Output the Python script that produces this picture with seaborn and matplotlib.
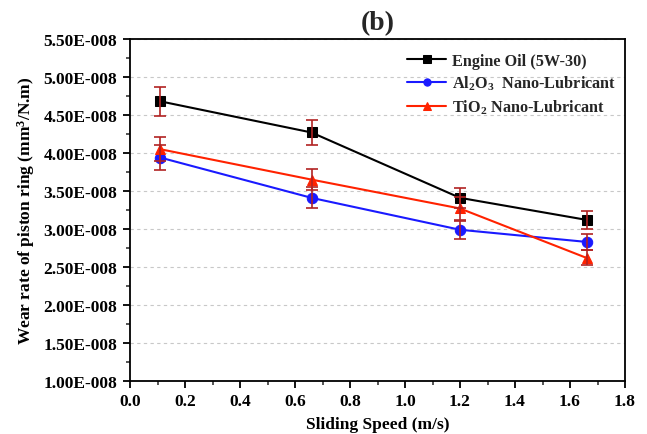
import matplotlib
matplotlib.use("Agg")
import matplotlib.pyplot as plt
import seaborn as sns
import pandas as pd
from matplotlib.ticker import MultipleLocator, FuncFormatter

speed = [0.11, 0.66, 1.2, 1.66]
engine_oil = [4.68, 4.27, 3.41, 3.12]
engine_err = [0.19, 0.17, 0.13, 0.12]
al2o3 = [3.94, 3.41, 2.99, 2.83]
al2o3_err = [0.16, 0.14, 0.12, 0.10]
tio2 = [4.05, 3.65, 3.27, 2.62]
tio2_err = [0.16, 0.14, 0.15, 0.10]
labels = ["Engine Oil (5W-30)", r"Al$_\mathbf{2}$O$_\mathbf{3}$  Nano-Lubricant", r"TiO$_\mathbf{2}$ Nano-Lubricant"]
scale = 1e-8

sns.set_theme(style="white")
plt.rcParams['font.family'] = ['Liberation Serif', 'DejaVu Serif']
plt.rcParams['font.weight'] = 'bold'
plt.rcParams['mathtext.fontset'] = 'custom'
plt.rcParams['mathtext.rm'] = 'Liberation Serif:bold'
plt.rcParams['mathtext.bf'] = 'Liberation Serif:bold'
plt.rcParams['mathtext.default'] = 'bf'

fig = plt.figure(figsize=(6.47, 4.35), dpi=100)
ax = fig.add_axes([130/647, 1-382/435, 495/647, 342/435])

series = [
    (engine_oil, engine_err, labels[0], "black", "s"),
    (al2o3, al2o3_err, labels[1], "#1a1aff", "o"),
    (tio2, tio2_err, labels[2], "#ff2200", "^"),
]
for vals, errs, lab, col, mk in series:
    df = pd.DataFrame({"x": speed, "y": [v * scale for v in vals]})
    sns.lineplot(data=df, x="x", y="y", ax=ax, color=col, marker=mk, markersize=7.5,
                 markeredgecolor=col, linewidth=1.5, label=lab, zorder=3)
    ax.errorbar(speed, [v * scale for v in vals], yerr=[e * scale for e in errs], fmt="none",
                ecolor="#b22222", elinewidth=1.2, capsize=4, capthick=1.2, zorder=4)

ax.set_xlim(0, 1.8)
ax.set_ylim(1.0e-8, 5.5e-8)
ax.xaxis.set_major_locator(MultipleLocator(0.2))
ax.xaxis.set_minor_locator(MultipleLocator(0.1))
ax.yaxis.set_major_locator(MultipleLocator(0.5e-8))
ax.yaxis.set_minor_locator(MultipleLocator(0.25e-8))
ax.xaxis.set_major_formatter(FuncFormatter(lambda v, p: f"{v:.1f}"))
ax.yaxis.set_major_formatter(FuncFormatter(lambda v, p: f"{v/1e-8:.2f}E-008"))

ax.grid(axis="y", which="major", color="#c8c8c8", linestyle=(0, (3, 3)), linewidth=0.8)
ax.grid(axis="x", visible=False)
for s in ax.spines.values():
    s.set_color("black")
    s.set_linewidth(1.3)
ax.tick_params(axis="both", which="major", direction="out", length=5, width=1.3,
               labelsize=12.5, bottom=True, left=True, top=False, right=False, colors="black", pad=4)
ax.tick_params(axis="both", which="minor", direction="out", length=3, width=1.1,
               bottom=True, left=True, top=False, right=False)
for t in ax.get_xticklabels() + ax.get_yticklabels():
    t.set_fontweight("bold")

ax.set_xlabel("Sliding Speed (m/s)", fontsize=12.5, fontweight="bold", color="black", labelpad=5)
ax.set_ylabel("Wear rate of piston ring (mm$^\\mathbf{3}$/N.m)", fontsize=12.5, fontweight="bold", color="black", labelpad=5)
ax.set_title("(b)", fontsize=20, fontweight="bold", pad=7)

leg = ax.legend(loc="upper right", bbox_to_anchor=(1.0, 0.985), frameon=False, handlelength=2.4,
                handletextpad=0.35, borderaxespad=0.15, labelspacing=0.3, markerscale=0.7,
                prop={"weight": "bold", "size": 11.7})
fig.savefig("out.png", dpi=100)
